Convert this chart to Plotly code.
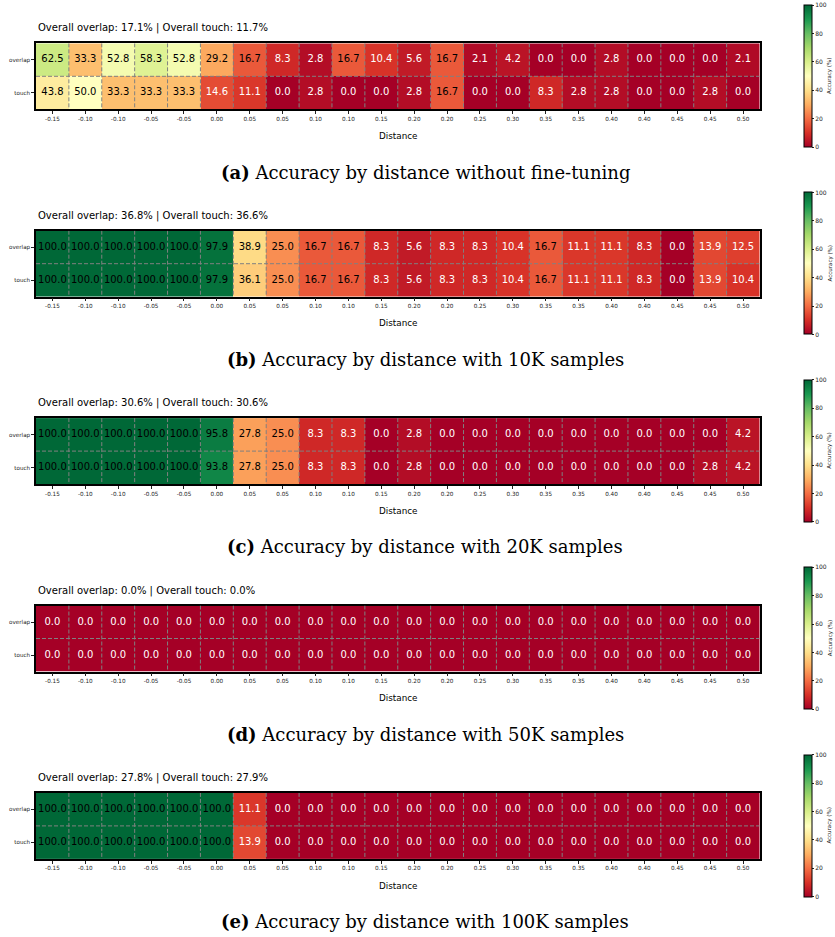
import plotly.graph_objects as go

W, H = 835, 937

distance_labels = ["-0.15", "-0.10", "-0.10", "-0.05", "-0.05", "0.00", "0.05", "0.05",
                   "0.10", "0.10", "0.15", "0.20", "0.20", "0.25", "0.30", "0.35",
                   "0.35", "0.40", "0.40", "0.45", "0.45", "0.50"]
row_labels = ["overlap", "touch"]

a_overlap = [62.5, 33.3, 52.8, 58.3, 52.8, 29.2, 16.7, 8.3, 2.8, 16.7, 10.4, 5.6,
             16.7, 2.1, 4.2, 0.0, 0.0, 2.8, 0.0, 0.0, 0.0, 2.1]
a_touch = [43.8, 50.0, 33.3, 33.3, 33.3, 14.6, 11.1, 0.0, 2.8, 0.0, 0.0, 2.8,
           16.7, 0.0, 0.0, 8.3, 2.8, 2.8, 0.0, 0.0, 2.8, 0.0]
b_overlap = [100.0, 100.0, 100.0, 100.0, 100.0, 97.9, 38.9, 25.0, 16.7, 16.7, 8.3, 5.6,
             8.3, 8.3, 10.4, 16.7, 11.1, 11.1, 8.3, 0.0, 13.9, 12.5]
b_touch = [100.0, 100.0, 100.0, 100.0, 100.0, 97.9, 36.1, 25.0, 16.7, 16.7, 8.3, 5.6,
           8.3, 8.3, 10.4, 16.7, 11.1, 11.1, 8.3, 0.0, 13.9, 10.4]
c_overlap = [100.0, 100.0, 100.0, 100.0, 100.0, 95.8, 27.8, 25.0, 8.3, 8.3, 0.0, 2.8,
             0.0, 0.0, 0.0, 0.0, 0.0, 0.0, 0.0, 0.0, 0.0, 4.2]
c_touch = [100.0, 100.0, 100.0, 100.0, 100.0, 93.8, 27.8, 25.0, 8.3, 8.3, 0.0, 2.8,
           0.0, 0.0, 0.0, 0.0, 0.0, 0.0, 0.0, 0.0, 2.8, 4.2]
d_overlap = [0.0] * 22
d_touch = [0.0] * 22
e_overlap = [100.0, 100.0, 100.0, 100.0, 100.0, 100.0, 11.1, 0.0, 0.0, 0.0, 0.0, 0.0,
             0.0, 0.0, 0.0, 0.0, 0.0, 0.0, 0.0, 0.0, 0.0, 0.0]
e_touch = [100.0, 100.0, 100.0, 100.0, 100.0, 100.0, 13.9, 0.0, 0.0, 0.0, 0.0, 0.0,
           0.0, 0.0, 0.0, 0.0, 0.0, 0.0, 0.0, 0.0, 0.0, 0.0]

overall_overlap = ["17.1", "36.8", "30.6", "0.0", "27.8"]
overall_touch = ["11.7", "36.6", "30.6", "0.0", "27.9"]
captions = [("(a)", "Accuracy by distance without fine-tuning"),
            ("(b)", "Accuracy by distance with 10K samples"),
            ("(c)", "Accuracy by distance with 20K samples"),
            ("(d)", "Accuracy by distance with 50K samples"),
            ("(e)", "Accuracy by distance with 100K samples")]

panels = [(a_overlap, a_touch), (b_overlap, b_touch), (c_overlap, c_touch),
          (d_overlap, d_touch), (e_overlap, e_touch)]

rdylgn = ["#a50026", "#d73027", "#f46d43", "#fdae61", "#fee08b", "#ffffbf",
          "#d9ef8b", "#a6d96a", "#66bd63", "#1a9850", "#006837"]
colorscale = [[i / 10, c] for i, c in enumerate(rdylgn)]

SANS = "DejaVu Sans"
fig = go.Figure()
layout = dict(width=W, height=H, margin=dict(l=0, r=0, t=0, b=0),
              paper_bgcolor="white", plot_bgcolor="white", showlegend=False)
annotations = []
shapes = []

x0px, x1px = 36.0, 759.5
step = 187.4
for k, (ov, to) in enumerate(panels):
    n = k + 1
    sfx = "" if n == 1 else str(n)
    top = 43.3 + k * step
    bot = top + 66.0
    cb_top = 5.0 + k * step
    ncol = len(distance_labels)
    z = [ov, to]
    fig.add_trace(go.Heatmap(
        z=z, x=list(range(ncol)), y=[0, 1], coloraxis="coloraxis" + sfx,
        xaxis="x" + sfx, yaxis="y" + sfx, hoverinfo="skip", xgap=0, ygap=0))
    tx, ty, tt, tc = [], [], [], []
    for r, row in enumerate(z):
        for ci, v in enumerate(row):
            tx.append(ci)
            ty.append(r)
            tt.append(f"{v:.1f}")
            tc.append("black" if v >= 15 else "white")
    fig.add_trace(go.Scatter(
        x=tx, y=ty, text=tt, mode="text", textposition="middle center",
        textfont=dict(family=SANS, size=10, color=tc), hoverinfo="skip",
        xaxis="x" + sfx, yaxis="y" + sfx, showlegend=False))
    layout["xaxis" + sfx] = dict(
        domain=[x0px / W, x1px / W], anchor="y" + sfx, range=[-0.5, ncol - 0.5],
        tickvals=list(range(ncol)), ticktext=distance_labels,
        tickfont=dict(family=SANS, size=5.7, color="#222"), ticks="outside",
        ticklen=3, tickwidth=0.8, tickcolor="#222", showline=True, mirror=True,
        linecolor="black", linewidth=1.5, showgrid=False, zeroline=False,
        fixedrange=True)
    layout["yaxis" + sfx] = dict(
        domain=[1 - bot / H, 1 - top / H], anchor="x" + sfx, range=[1.5, -0.5],
        tickvals=[0, 1], ticktext=row_labels,
        tickfont=dict(family=SANS, size=5.6, color="#222"), ticks="outside",
        ticklen=3, tickwidth=0.8, tickcolor="#222", showline=True, mirror=True,
        linecolor="black", linewidth=1.5, showgrid=False, zeroline=False,
        fixedrange=True)
    layout["coloraxis" + sfx] = dict(
        colorscale=colorscale, cmin=0, cmax=100,
        colorbar=dict(x=804 / W, xanchor="left", y=1 - cb_top / H, yanchor="top",
                      len=142, lenmode="pixels", thickness=8, thicknessmode="pixels",
                      xpad=0, ypad=0, outlinewidth=1, outlinecolor="black",
                      tickvals=[0, 20, 40, 60, 80, 100], ticks="outside",
                      ticklen=2, tickwidth=0.8, tickcolor="#222",
                      tickfont=dict(family=SANS, size=6, color="#222")))
    # dashed cell separators
    for i in range(ncol - 1):
        shapes.append(dict(type="line", xref="x" + sfx, yref="y" + sfx,
                           x0=i + 0.5, x1=i + 0.5, y0=-0.5, y1=1.5,
                           line=dict(color="#808080", width=1, dash="4px,2px"),
                           layer="above"))
    shapes.append(dict(type="line", xref="x" + sfx, yref="y" + sfx,
                       x0=-0.5, x1=ncol - 0.5, y0=0.5, y1=0.5,
                       line=dict(color="#808080", width=1, dash="4px,2px"),
                       layer="above"))
    # title
    annotations.append(dict(
        x=x0px / W, y=1 - (top - 15) / H, xref="paper", yref="paper",
        xanchor="left", yanchor="middle", showarrow=False,
        text=f"Overall overlap: {overall_overlap[k]}% | Overall touch: {overall_touch[k]}%",
        font=dict(family=SANS, size=10, color="black")))
    # x-axis label
    annotations.append(dict(
        x=(x0px + x1px) / 2 / W, y=1 - (bot + 26.7) / H, xref="paper", yref="paper",
        xanchor="center", yanchor="middle", showarrow=False, text="Distance",
        font=dict(family=SANS, size=8.8, color="black")))
    # colorbar label
    annotations.append(dict(
        x=830 / W, y=1 - (cb_top + 71) / H, xref="paper", yref="paper",
        xanchor="center", yanchor="middle", showarrow=False, text="Accuracy (%)",
        textangle=-90, font=dict(family=SANS, size=5.5, color="#222")))
    # caption
    lab, cap = captions[k]
    annotations.append(dict(
        x=425 / W, y=1 - (172 + k * step) / H, xref="paper", yref="paper",
        xanchor="center", yanchor="middle", showarrow=False,
        text=f"<b>{lab}</b> {cap}",
        font=dict(family="DejaVu Serif", size=18, color="black")))

layout["annotations"] = annotations
layout["shapes"] = shapes
fig.update_layout(**layout)
fig.write_html("out.html", config={"displayModeBar": False},
               post_script="document.body.style.margin='0';document.body.style.overflow='hidden';")
